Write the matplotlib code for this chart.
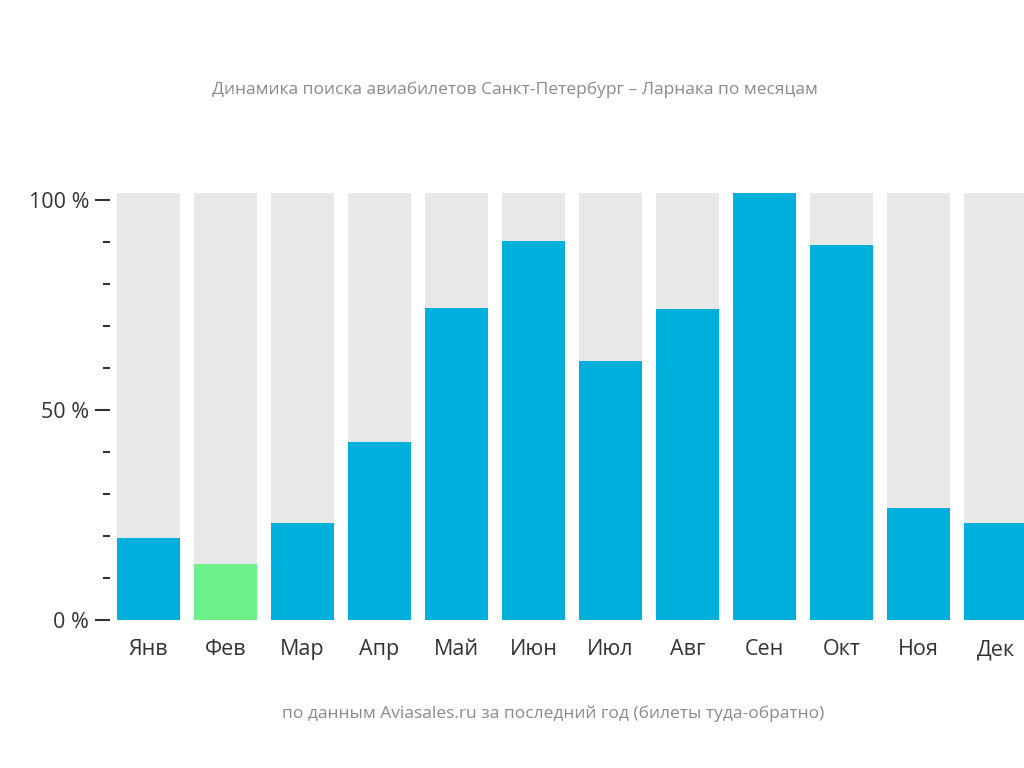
import matplotlib
matplotlib.use('Agg')
import matplotlib.pyplot as plt
import numpy as np

months = ['Янв', 'Фев', 'Мар', 'Апр', 'Май', 'Июн', 'Июл', 'Авг', 'Сен', 'Окт', 'Ноя', 'Дек']
values = [19.6, 13.4, 23.1, 42.5, 74.2, 90.2, 61.8, 74.0, 101.7, 89.3, 26.7, 23.1]
background = 101.7
highlight = 'Фев'

title = 'Динамика поиска авиабилетов Санкт-Петербург – Ларнака по месяцам'
footer = 'по данным Aviasales.ru за последний год (билеты туда-обратно)'

plt.rcParams['font.family'] = ['Open Sans', 'DejaVu Sans']

fig = plt.figure(figsize=(10.24, 7.68), dpi=100)
W, H = 1024, 768
ax = fig.add_axes([110 / W, (H - 620) / H, 924 / W, 427 / H])

x = np.arange(len(months))
colors = ['#6cf08a' if m == highlight else '#00b0dc' for m in months]
ax.bar(x, [background] * len(months), width=0.82, color='#e8e8e8', zorder=1)
ax.bar(x, values, width=0.82, color=colors, zorder=2)

ax.set_xlim(-0.5, len(months) - 0.5)
ax.set_ylim(0, background)
ax.set_xticks(x)
ax.set_xticklabels(months, fontsize=15.5, color='#333333')
ax.set_yticks([0, 50, 100])
ax.set_yticklabels(['0 %', '50 %', '100 %'], fontsize=15.5, color='#333333')
ax.set_yticks([10, 20, 30, 40, 60, 70, 80, 90], minor=True)
ax.tick_params(axis='x', length=0, pad=14)
ax.tick_params(axis='y', which='major', length=11, width=1.5, color='#333333', pad=4)
ax.tick_params(axis='y', which='minor', length=5, width=1.5, color='#333333')
for s in ax.spines.values():
    s.set_visible(False)

fig.text(515 / W, 1 - 90 / H, title, ha='center', va='center', fontsize=12.5, color='#8a8a8a')
fig.text(553 / W, 1 - 714 / H, footer, ha='center', va='center', fontsize=12.5, color='#8a8a8a')

fig.savefig('out.png', dpi=100, facecolor='white')
